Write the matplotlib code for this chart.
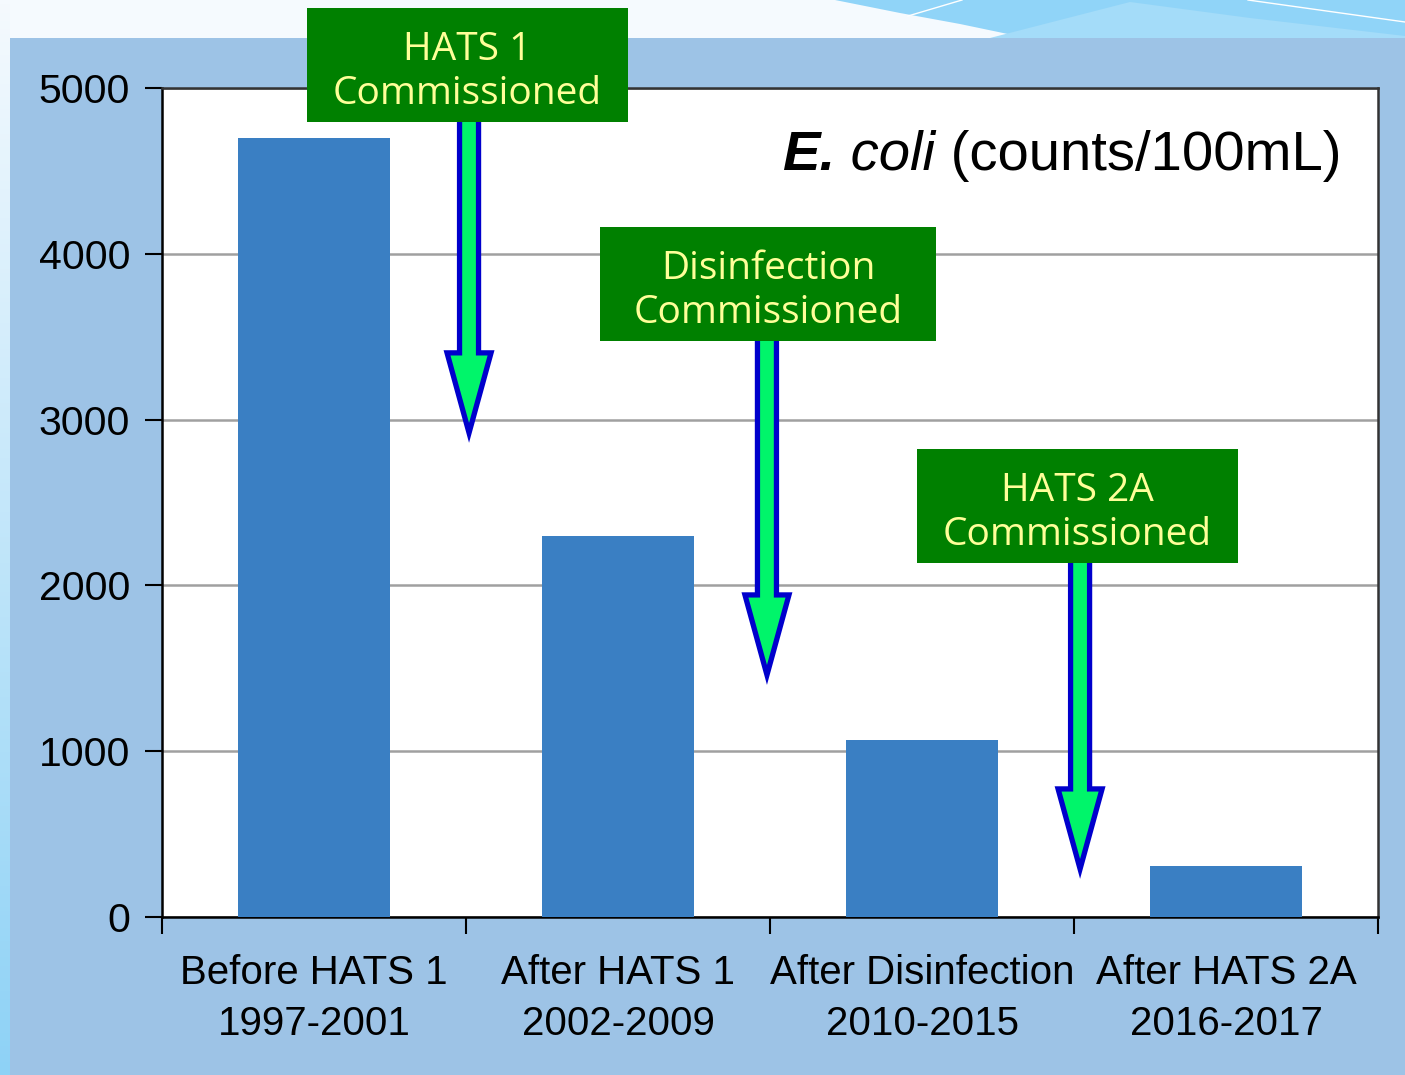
import matplotlib
matplotlib.use("Agg")
import matplotlib.pyplot as plt
from matplotlib.patches import Rectangle, Polygon
from matplotlib.transforms import IdentityTransform
import numpy as np

# ---- data ----
categories = ["Before HATS 1\n1997-2001", "After HATS 1\n2002-2009",
              "After Disinfection\n2010-2015", "After HATS 2A\n2016-2017"]
ecoli = [4700, 2300, 1070, 310]
yticks = [0, 1000, 2000, 3000, 4000, 5000]
box_labels = ["HATS 1\nCommissioned", "Disinfection\nCommissioned", "HATS 2A\nCommissioned"]
arrow_x = [0.51, 1.49, 2.52]          # category-axis position of arrows
arrow_tip = [2920, 1460, 290]         # value where arrow tip points

W, H = 1405, 1075
fig = plt.figure(figsize=(W / 100, H / 100), dpi=100)
fig.patch.set_facecolor("#F5FAFE")

def px(x0, y0, w, h, **kw):
    r = Rectangle((x0, H - y0 - h), w, h, transform=IdentityTransform(), **kw)
    fig.add_artist(r)
    return r

def ppoly(pts, **kw):
    p = Polygon([(x, H - y) for x, y in pts], closed=True, transform=IdentityTransform(), **kw)
    fig.add_artist(p)

# background decorations
grad = np.linspace(0, 1, 256).reshape(-1, 1)
axg = fig.add_axes([0, 0, 10 / W, 1], zorder=-20)
axg.imshow(grad, aspect="auto", cmap=matplotlib.colors.LinearSegmentedColormap.from_list(
    "g", ["#F5FAFE", "#8ED2F6"]), extent=[0, 1, 0, 1], origin="upper")
axg.axis("off")
sw1 = [(835, 0), (900, 13), (960, 24), (1027, 38), (1405, 38), (1405, 0)]
ppoly(sw1, facecolor="#90D4F8", edgecolor="none", zorder=-15)
sw2 = [(990, 38), (1060, 20), (1130, 2), (1250, 18), (1405, 36), (1405, 38)]
ppoly(sw2, facecolor="#A4DCF9", edgecolor="none", zorder=-14)
fig.add_artist(plt.Line2D([908, 962], [H - 16, H - 0], transform=IdentityTransform(),
                          color="white", lw=1, zorder=-13))
fig.add_artist(plt.Line2D([1248, 1405], [H - 0, H - 22], transform=IdentityTransform(),
                          color="white", lw=1, zorder=-13))
px(10, 38, W - 10, H - 38, facecolor="#9DC3E6", edgecolor="none", zorder=-10)

# ---- axes ----
ax_l, ax_r, ax_t, ax_b = 162, 1378, 88, 917
ax = fig.add_axes([ax_l / W, (H - ax_b) / H, (ax_r - ax_l) / W, (ax_b - ax_t) / H])
ax.set_facecolor("white")
xpos = np.arange(len(categories))
ax.bar(xpos, ecoli, width=0.5, color="#3A7FC3", zorder=3)
ax.set_xlim(-0.5, len(categories) - 0.5)
ax.set_ylim(0, 5000)
ax.set_yticks(yticks)
ax.set_yticklabels([str(v) for v in yticks], fontsize=29.5, family="Liberation Sans")
ax.yaxis.grid(True, color="#A0A0A0", lw=1.8, zorder=1)
ax.set_axisbelow(True)
ax.tick_params(axis="y", direction="out", length=12, width=1.5, pad=11)
ax.set_xticks(np.arange(-0.5, len(categories), 1.0))
ax.set_xticklabels([])
ax.set_xticks(xpos, minor=True)
ax.set_xticklabels(categories, minor=True, fontsize=29, family="Liberation Sans",
                   linespacing=1.43)
ax.tick_params(axis="x", which="major", direction="out", length=12, width=1.5)
ax.tick_params(axis="x", which="minor", length=0, pad=27)
for s in ax.spines.values():
    s.set_linewidth(1.8)
    s.set_color("black")
ax.spines["top"].set_color("#333333")
ax.spines["right"].set_color("#333333")

# title: E. coli (counts/100mL)
t1 = ax.text(0.510, 0.918, "E.", transform=ax.transAxes, fontsize=40.5, fontstyle="italic",
             fontweight="bold", family="Liberation Sans", va="center", ha="left")
t2 = ax.annotate(" coli", xy=(1, 0), xycoords=t1, fontsize=40.5, fontstyle="italic",
                 family="Liberation Sans", va="bottom", ha="left")
t3 = ax.annotate(" (counts/100mL)", xy=(1, 0), xycoords=t2, fontsize=40.5,
                 family="Liberation Sans", va="bottom", ha="left")

# ---- arrows and boxes (pixel geometry) ----
boxes = [(307, 8, 321, 114), (600, 227, 336, 114), (917, 449, 321, 114)]
fig.canvas.draw()
for (bx, by, bw, bh), lab, axx, tip in zip(boxes, box_labels, arrow_x, arrow_tip):
    cx, ty = ax.transData.transform((axx, tip))
    top = H - (by + bh) + 10
    sw, hw, hl = 9.5, 22, 80
    pts = [(cx - sw, top), (cx + sw, top), (cx + sw, ty + hl), (cx + hw, ty + hl),
           (cx, ty), (cx - hw, ty + hl), (cx - sw, ty + hl)]
    p = Polygon(pts, closed=True, transform=IdentityTransform(), facecolor="#00F56A",
                edgecolor="#0000CC", lw=3.8, joinstyle="miter", zorder=5)
    fig.add_artist(p)
    px(bx, by, bw, bh, facecolor="#008000", edgecolor="none", zorder=6)
    fig.text((bx + bw / 2) / W, 1 - (by + bh / 2 + 7) / H, lab, ha="center", va="center",
             fontsize=28, color="#FFFF99", family="Open Sans", fontweight="medium",
             linespacing=1.24, zorder=7)

fig.savefig("out.png", dpi=100)
